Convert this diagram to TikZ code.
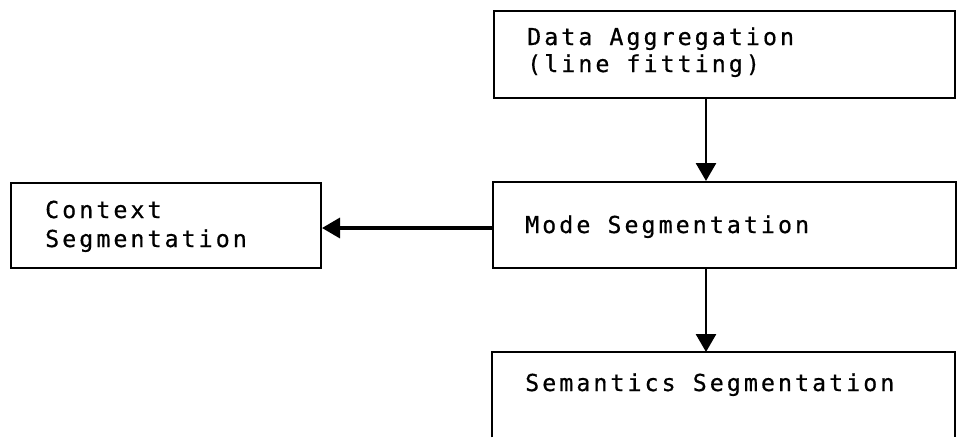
\documentclass[tikz,border=0pt]{standalone}
\usepackage{fontspec}
\newfontfamily\boxfont[LetterSpace=13,FakeBold=0.6]{DejaVu Sans Mono}
\usetikzlibrary{arrows.meta}
\tikzset{
  box/.style={draw, line width=2pt, anchor=north west, inner sep=0pt},
  lbl/.style={inner sep=0pt, anchor=base west, font=\boxfont\fontsize{23.3}{27}\selectfont},
  flow/.style={line width=2.8pt, -{Triangle[length=18pt,width=20pt]}},
  side/.style={line width=2pt}
}
\begin{document}
\begin{tikzpicture}[x=1pt,y=-1pt]
\useasboundingbox[fill=white] (0,0) rectangle (959,437);
\node[box, minimum width=461pt, minimum height=87pt] (data) at (493,10) {};
\node[box, minimum width=463pt, minimum height=86pt] (mode) at (492,181) {};
\node[box, minimum width=310pt, minimum height=85pt] (ctx) at (10,182) {};
\node[draw=none, anchor=north west, minimum width=463pt, minimum height=85pt, inner sep=0pt] (sem) at (492,352) {};
\draw[side] (sem.south west) -- (sem.north west) -- (sem.north east) -- (sem.south east);
\node[lbl] (dataA) at (527,45) {Data Aggregation};
\node[lbl] (dataB) at (527,72) {(line fitting)};
\node[lbl] (modeT) at (525,233) {Mode Segmentation};
\node[lbl] (ctxA) at (45,218) {Context};
\node[lbl] (ctxB) at (45,247) {Segmentation};
\node[lbl] (semT) at (525,391) {Semantics Segmentation};
\coordinate (xa) at (706,0);
\coordinate (ya) at (0,228);
\draw[flow] (data.south -| xa) -- (mode.north -| xa);
\draw[flow] (mode.south -| xa) -- (sem.north -| xa);
\draw[flow, line width=3.4pt] (mode.west |- ya) -- (ctx.east |- ya);
\end{tikzpicture}
\end{document}
